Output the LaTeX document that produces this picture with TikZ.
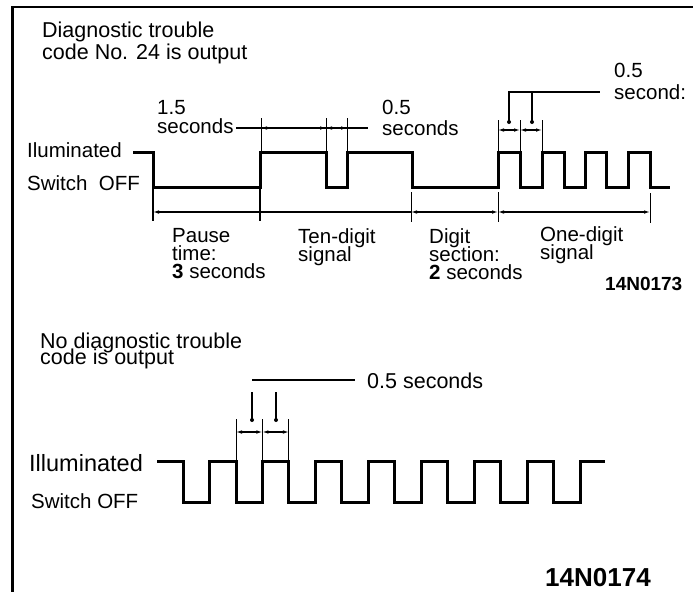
\documentclass[tikz,border=0pt]{standalone}
\usepackage{fontspec}
\setmainfont{Liberation Sans}
\usetikzlibrary{arrows.meta}
\tikzset{
  lbl/.style={inner sep=0pt, anchor=base west, font=\fontsize{20.5}{20}\selectfont},
  blk/.style={inner sep=0pt, anchor=north west, align=left,
    font=\fontsize{20.5}{#1}\selectfont},
  biglbl/.style={inner sep=0pt, anchor=base west, font=\fontsize{23.5}{23.5}\selectfont},
  code/.style={inner sep=0pt, anchor=base west, font=\fontsize{19}{19}\selectfont\bfseries},
  bigcode/.style={inner sep=0pt, anchor=base west, font=\fontsize{26}{26}\selectfont\bfseries},
  wave/.style={line width=3pt, line join=miter, line cap=butt},
  edge/.style={line width=2.6pt},
  dimln/.style={line width=1.1pt},
  extln/.style={line width=1pt},
  dimarr/.style={dimln, arrows={Latex[length=6pt,width=3.6pt]-Latex[length=6pt,width=3.6pt]}},
  leftarr/.style={dimln, arrows={Latex[length=6pt,width=3.6pt]-}},
  dotmark/.style={fill=black},
}
\begin{document}
\setlength{\lineskiplimit}{-100pt}%
\setlength{\lineskip}{0pt}%
\begin{tikzpicture}[x=1pt,y=-1pt]
\useasboundingbox (0,0) rectangle (693,592);
% frame
\draw[line width=2pt] (11,7) -- (693,7);
\draw[line width=3pt] (12,6) -- (12,592);

% ---------------- upper chart ----------------
\node[blk=22, font=\fontsize{21.5}{22}\selectfont] (title1) at (42,21.6) {Diagnostic trouble\\code No. 24 is output};
\node[lbl] (il1) at (27,157) {Iluminated};
\node[lbl] (sw1) at (27,190) {Switch\ \ OFF};

\node[blk=19] (a) at (157,100.3) {1.5\\seconds};
\node[blk=21] (b) at (382,100.3) {0.5\\seconds};
\node[blk=22] (c) at (614,63.3) {0.5\\second:};

\node[blk=18] (p) at (172,228.3) {Pause\\time:\\\textbf{3} seconds};
\node[blk=18] (td) at (298,228.3) {Ten-digit\\signal};
\node[blk=18] (ds) at (429,228.3) {Digit\\section:\\\textbf{2} seconds};
\node[blk=18] (od) at (540,226.3) {One-digit\\signal};
\node[code] (code1) at (605,290) {14N0173};

% waveform
\draw[wave] (133,152) -- (153,152) -- (153,187) -- (260,187) -- (260,152)
  -- (326,152) -- (326,187) -- (347,187) -- (347,152) -- (412,152) -- (412,187)
  -- (498,187) -- (498,152) -- (520,152) -- (520,187) -- (542,187) -- (542,152)
  -- (564,152) -- (564,187) -- (585,187) -- (585,152) -- (606,152) -- (606,187)
  -- (628,187) -- (628,152) -- (650,152) -- (650,187) -- (670,187);

% upper dimension (1.5 s / 0.5 s)
\draw[dimln] (236,128) -- (368,128);
\draw[dimarr] (261,128) -- (326,128);
\draw[dimarr] (326,128) -- (347,128);
\draw[extln] (261,118) -- (261,152);
\draw[extln] (326,118) -- (326,152);
\draw[extln] (347,118) -- (347,152);

% 0.5 second bracket (right)
\draw[dimln] (509,122) -- (509,92) -- (600,92);
\draw[dimln] (532,122) -- (532,92);
\fill[dotmark] (509,122) circle (2pt);
\fill[dotmark] (532,122) circle (2pt);
\draw[dimarr] (498,130) -- (520,130);
\draw[dimarr] (520,130) -- (542,130);
\draw[extln] (498,120) -- (498,152);
\draw[extln] (520,120) -- (520,152);
\draw[extln] (542,120) -- (542,152);

% lower dimension row
\draw[edge] (153,186) -- (153,221);
\draw[edge] (260,186) -- (260,221);
\draw[extln] (411,192) -- (411,222);
\draw[extln] (498,192) -- (498,222);
\draw[extln] (650,193) -- (650,223);
\draw[leftarr] (153,212) -- (411,212);
\draw[dimarr] (411,212) -- (498,212);
\draw[dimarr] (498,212) -- (650,212);

% ---------------- lower chart ----------------
\node[blk=16.5, font=\fontsize{21.5}{16.5}\selectfont] (n) at (40,332.6) {No diagnostic trouble\\code is output};
\node[lbl, font=\fontsize{21.5}{21.5}\selectfont] (e1) at (367,388) {0.5 seconds};
\node[biglbl] (il2) at (29,471) {Illuminated};
\node[lbl] (sw2) at (31,508) {Switch OFF};
\node[bigcode] (code2) at (545,586) {14N0174};

\draw[dimln] (252,380) -- (355,380);
\draw[dimln] (252,392) -- (252,420);
\draw[dimln] (276,392) -- (276,420);
\fill[dotmark] (252,420) circle (2pt);
\fill[dotmark] (276,420) circle (2pt);
\draw[dimarr] (236,432) -- (262.4,432);
\draw[dimarr] (262.4,432) -- (288.9,432);
\draw[extln] (236,419) -- (236,461);
\draw[extln] (262.4,419) -- (262.4,461);
\draw[extln] (288.9,419) -- (288.9,461);

\draw[wave] (157,461) -- (183,461) -- (183,502) -- (209.5,502) -- (209.5,461)
  -- (236,461) -- (236,502) -- (262.4,502) -- (262.4,461) -- (288.9,461)
  -- (288.9,502) -- (315.4,502) -- (315.4,461) -- (341.8,461) -- (341.8,502)
  -- (368.3,502) -- (368.3,461) -- (394.8,461) -- (394.8,502) -- (421.2,502)
  -- (421.2,461) -- (447.7,461) -- (447.7,502) -- (474.2,502) -- (474.2,461)
  -- (500.6,461) -- (500.6,502) -- (527.1,502) -- (527.1,461) -- (553.6,461)
  -- (553.6,502) -- (580,502) -- (580,461) -- (605,461);
\end{tikzpicture}
\end{document}
